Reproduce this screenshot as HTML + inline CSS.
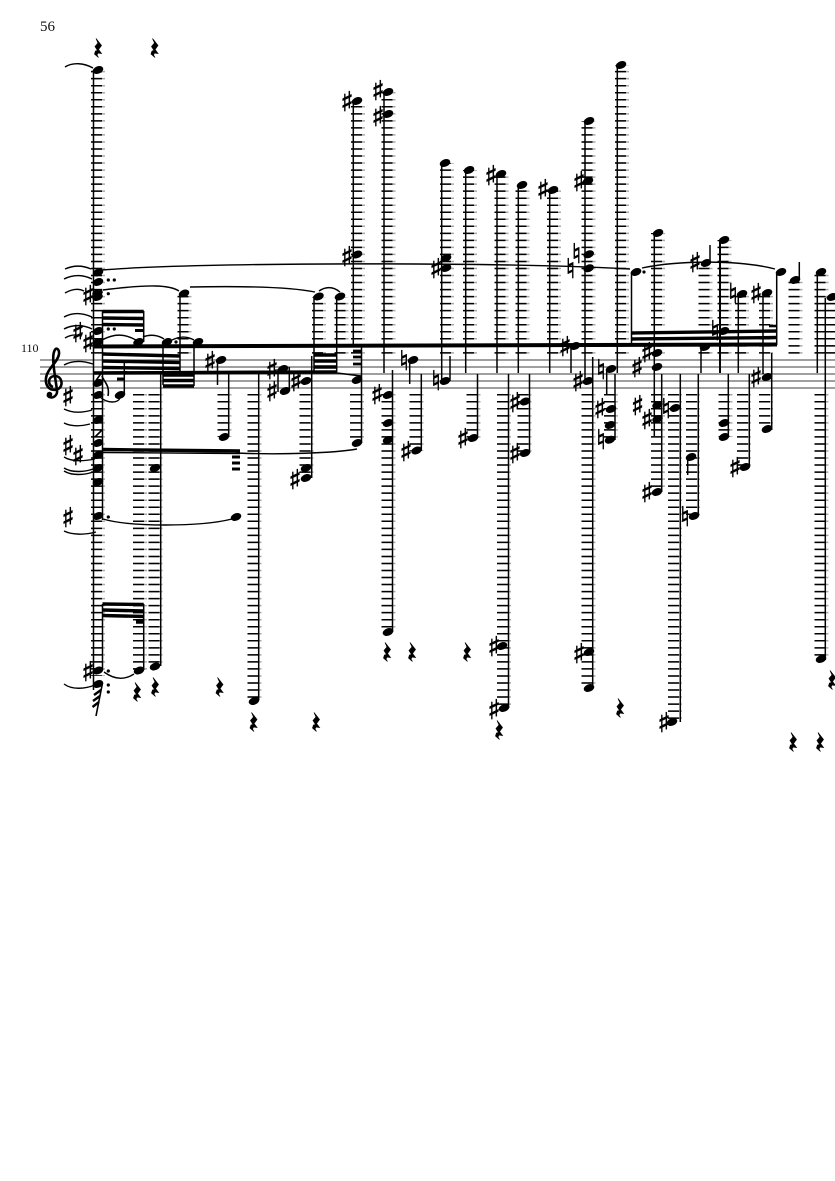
<!DOCTYPE html>
<html><head><meta charset="utf-8">
<style>
html,body{margin:0;padding:0;background:#fff}
svg{display:block}
.s{font-family:"DejaVu Sans",sans-serif;font-size:27px;text-anchor:middle;dominant-baseline:central;fill:#000;stroke:#000;stroke-width:.7px}
.t{font-family:"Liberation Serif",serif;fill:#111}
</style></head><body>
<svg width="835" height="1181" viewBox="0 0 835 1181" xmlns="http://www.w3.org/2000/svg">
<defs>
<ellipse id="n" cx="0" cy="0" rx="5.5" ry="3.7" transform="rotate(-22)"/>
<polygon id="r" stroke="#000" stroke-width=".7" points="-2,-9.5 3.5,-2.5 0.5,1.5 3.5,5.5 0,5 -1,7 0.5,9.5 -3.5,6 -2.5,3 -0.5,2.5 -3,-1.5 0,-5"/>
<path id="lu" d="M98 353.6V70M184.5 353.6V294M319 353.6V297M341.5 353.6V297M358 353.6V101M388.5 353.6V92M447 353.6V163M470 353.6V170M501.5 353.6V174M522.5 353.6V185M554 353.6V190M588.5 353.6V121M622 353.6V65M658 353.6V233M705.5 353.6V263M724.5 353.6V240M742 353.6V294M766 353.6V293M795.5 353.6V280M821.5 353.6V272M832 353.6V297"/>
<path id="ld" d="M98 394V676M140 394V671M155.5 394V667M224.5 394V437M254.5 394V701M306.5 394V478M357 394V443M388.5 394V632M416.5 394V451M473.5 394V438M504 394V708M524.5 394V453M588.5 394V688M611 394V440M658 394V492M675 394V722M693 394V516M725.5 394V437M744 394V467M766 394V429M821.5 394V660"/>
</defs>
<rect width="835" height="1181" fill="#fff"/>
<text class="t" x="40" y="31" font-size="15">56</text>
<text class="t" x="21" y="352" font-size="12">110</text>

<!-- staff -->
<path d="M40 360H835M40 367H835M40 374H835M40 381H835M40 388H835" stroke="#666" stroke-width="1.3" fill="none"/>

<!-- ledger lines: grey tips under black bars -->
<g fill="none" stroke-dasharray="1.5 5.53">
<g stroke="#aaa" stroke-width="14"><use href="#lu"/><use href="#ld"/></g>
<g stroke="#000" stroke-width="11"><use href="#lu" x="-1.5"/><use href="#ld" x="-1.5"/></g>
</g>

<!-- stems -->
<path fill="none" stroke="#000" stroke-width="1.5" d="M93.5 70V690M102.5 310V520M102.5 604V670M143.7 604V670M143.7 311V342M124.3 360V395M160.7 373V666M163 342V385M180 293V372M194 342V386M217.5 360V385M228.7 374V437M258.7 374V700M278 369V392M289.3 367V391M311.7 356V478M314 296V372M336.7 296V372M353.3 101V346M361.5 346V443M384 92V373M392.5 370V632M409.7 360V384M421.3 374V451M441.7 163V380M450 356V381M465.7 170V373M477.5 374V438M497 174V373M508.5 374V708M518.3 185V373M529.5 374V453M549.7 190V373M571 346V373M585 121V380M592.7 357V688M606.7 369V394M615 374V440M617.3 65V373M631.5 272V345M654.3 233V436M661.7 374V492M680.3 374V722M687.7 457V475M698.3 374V516M701 347V373M710 245V263M728.3 374V437M738.3 294V373M749.3 374V467M763 293V374M771.7 353V430M776.7 272V345M799.3 262V280M817.3 272V373M825.3 298V660"/>
<path fill="none" stroke="#000" stroke-width="2" d="M720 240V373"/>

<!-- beams -->
<g fill="none" stroke="#000">
<path stroke-width="4" d="M94 346.5L777 344.5"/>
<path stroke-width="3.6" d="M94 373L337 372"/>
<path stroke-width="3.4" d="M102.5 354L180 356M102.5 361L180 362.5M102.5 367.500L180 368.5"/>
<path stroke-width="3.4" d="M163 375L194 375M163 380.5L194 380.5M163 386L194 386"/>
<path stroke-width="3.4" d="M102.5 311.5L143.7 311.5M102.5 318L143.7 318.5M102.5 324.5L143.7 325"/>
<path stroke-width="3" d="M135 330.5H143.7M117 379H124.3"/>
<path stroke-width="3.4" d="M102.5 604L143.7 604.5M102.5 610L143.7 611M102.5 615.5L143.7 616.5M136 622H143.7"/>
<path stroke-width="3.4" d="M102.5 449.5L240 451"/>
<path stroke-width="1.4" d="M102.5 452.5L240 453.5"/>
<path stroke-width="3" d="M232 457H240M232 463H240M232 469H240"/>
<path stroke-width="3.4" d="M314 355H337M314 361H337M314 367H337"/>
<path stroke-width="2.8" d="M353 351H361.5M353 357H361.5M353 364H361.5"/>
<path stroke-width="1.4" d="M337 373L361 376"/>
<path stroke-width="3.4" d="M631.5 333L777 331M631.5 339L777 337.5"/>
<path stroke-width="2.6" d="M769 326H776.7"/>
</g>

<!-- ties -->
<path fill="none" stroke="#000" stroke-width="1.4" d="M65 67C73 62 84 63 93 68M65 269C74 265 82 265 91 269M64 279C74 274 84 275 92 279M65 293C72 289 78 288 84 291M64 317C73 312 83 313 92 317M64 329C73 324 84 325 92 329M65 338C70 335 76 334 82 336M64 365C73 360 84 361 93 364M64 409C72 413 82 413 92 410M64 423C72 427 82 426 90 424M64 457C72 462 85 461 95 459M64 468C72 473 85 472 93 469M64 471C72 476 85 475 93 472M64 531C72 535 85 535 96 532M64 684C72 690 85 689 95 685M102 270C200 262 500 262 630 269M103 290C150 284 170 285 179 291M190 287C240 286 290 287 315 292M319 291C328 285 335 288 340 292M642 268C680 260 740 260 775 269M103 519C130 527 200 527 232 519M236 453C280 455 335 453 357 449M104 672C115 680 125 680 134 674M100 397C108 404 118 403 120 398M102 340C115 333 125 334 136 340M143 337C150 334 158 335 164 339M172 340C180 336 187 336 194 340"/>

<!-- flags -->
<path fill="none" stroke="#000" stroke-width="1.6" d="M102 376C104 382 110 385 108 396M95 382L102 372M95 437L102 430M102.5 683L96 716"/>
<path fill="none" stroke="#000" stroke-width="2.4" d="M94 695L101 690M93 701L100 696M92.500 707L99 702"/>

<!-- noteheads -->
<g fill="#000">
<use href="#n" x="98" y="70"/><use href="#n" x="98" y="272.5"/><use href="#n" x="98" y="282"/><use href="#n" x="97.500" y="293"/><use href="#n" x="97.500" y="297"/><use href="#n" x="98" y="331"/><use href="#n" x="98" y="342"/><use href="#n" x="98" y="383"/><use href="#n" x="98" y="395"/><use href="#n" x="98" y="420"/><use href="#n" x="98" y="443"/><use href="#n" x="98" y="455"/><use href="#n" x="98" y="468"/><use href="#n" x="98" y="482"/><use href="#n" x="98" y="516"/><use href="#n" x="98" y="670.5"/><use href="#n" x="98" y="684"/>
<use href="#n" x="120" y="395"/><use href="#n" x="138.500" y="342"/><use href="#n" x="167" y="342"/><use href="#n" x="198" y="342"/><use href="#n" x="184" y="293.500"/><use href="#n" x="139" y="670.500"/><use href="#n" x="155" y="468"/><use href="#n" x="155" y="666.500"/><use href="#n" x="236" y="517"/><use href="#n" x="221" y="360"/><use href="#n" x="224" y="437"/><use href="#n" x="254" y="701"/>
<use href="#n" x="283" y="369"/><use href="#n" x="285" y="391"/><use href="#n" x="306" y="381"/><use href="#n" x="306" y="468"/><use href="#n" x="306" y="478"/><use href="#n" x="318.500" y="296.500"/><use href="#n" x="340" y="296.500"/><use href="#n" x="357" y="101"/><use href="#n" x="357" y="254.500"/><use href="#n" x="357" y="380"/><use href="#n" x="357" y="443"/>
<use href="#n" x="388" y="92"/><use href="#n" x="388" y="114"/><use href="#n" x="388" y="395"/><use href="#n" x="388" y="423"/><use href="#n" x="388" y="440"/><use href="#n" x="388" y="632"/><use href="#n" x="413" y="360"/><use href="#n" x="416.500" y="450.500"/><use href="#n" x="445" y="163"/><use href="#n" x="446" y="258"/><use href="#n" x="446" y="268"/><use href="#n" x="445" y="381"/>
<use href="#n" x="469" y="170"/><use href="#n" x="473" y="438"/><use href="#n" x="501" y="174"/><use href="#n" x="502" y="646"/><use href="#n" x="504" y="708"/><use href="#n" x="522" y="185"/><use href="#n" x="525" y="401.500"/><use href="#n" x="525" y="453"/><use href="#n" x="553" y="190"/>
<use href="#n" x="575" y="346"/><use href="#n" x="589" y="121"/><use href="#n" x="588" y="181"/><use href="#n" x="588.700" y="254.300"/><use href="#n" x="588.700" y="268.300"/><use href="#n" x="588" y="381"/><use href="#n" x="589" y="652"/><use href="#n" x="589" y="688"/><use href="#n" x="611" y="369"/><use href="#n" x="611" y="409"/><use href="#n" x="610" y="425"/><use href="#n" x="610" y="439.700"/><use href="#n" x="621" y="65"/>
<use href="#n" x="636" y="272"/><use href="#n" x="658" y="233"/><use href="#n" x="657" y="353"/><use href="#n" x="657" y="367"/><use href="#n" x="657.500" y="405"/><use href="#n" x="657.500" y="419"/><use href="#n" x="657" y="492"/><use href="#n" x="675" y="408"/><use href="#n" x="672" y="722"/><use href="#n" x="691" y="457"/><use href="#n" x="694" y="516"/><use href="#n" x="705" y="347"/><use href="#n" x="706" y="263"/><use href="#n" x="724" y="240"/><use href="#n" x="724" y="331"/><use href="#n" x="724" y="423"/><use href="#n" x="724" y="437"/>
<use href="#n" x="742" y="294"/><use href="#n" x="745" y="467"/><use href="#n" x="767" y="293"/><use href="#n" x="767" y="377"/><use href="#n" x="767" y="429"/><use href="#n" x="781" y="272"/><use href="#n" x="795" y="280"/><use href="#n" x="821" y="272"/><use href="#n" x="821" y="659"/><use href="#n" x="832" y="297"/>
</g>

<!-- dots -->
<g fill="#000">
<circle cx="108.300" cy="280" r="1.600"/><circle cx="114.300" cy="280" r="1.600"/><circle cx="108.300" cy="293.700" r="1.600"/><circle cx="108.300" cy="329" r="1.600"/><circle cx="114.300" cy="329" r="1.600"/><circle cx="108.300" cy="517" r="1.600"/><circle cx="108.300" cy="671" r="1.600"/><circle cx="108.300" cy="685" r="1.600"/><circle cx="108.300" cy="692" r="1.600"/><circle cx="176" cy="342" r="1.600"/><circle cx="644" cy="272" r="1.600"/>
</g>

<!-- accidentals -->
<g transform="translate(0 1.500)">
<text class="s" x="88" y="295">♯</text><text class="s" x="78" y="332">♯</text><text class="s" x="88" y="342">♯</text><text class="s" x="68" y="396">♯</text><text class="s" x="68" y="445">♯</text><text class="s" x="78" y="455">♯</text><text class="s" x="68" y="517">♯</text><text class="s" x="88" y="671">♯</text>
<text class="s" x="210" y="361">♯</text><text class="s" x="272" y="369">♯</text><text class="s" x="272" y="391">♯</text><text class="s" x="296" y="381">♯</text><text class="s" x="295" y="479">♯</text><text class="s" x="347" y="101">♯</text><text class="s" x="347" y="256">♯</text>
<text class="s" x="378" y="90">♯</text><text class="s" x="378" y="116">♯</text><text class="s" x="377" y="394">♯</text><text class="s" x="404" y="360">♮</text><text class="s" x="406" y="451">♯</text><text class="s" x="436" y="268">♯</text><text class="s" x="436" y="380">♮</text><text class="s" x="463" y="438">♯</text>
<text class="s" x="491" y="175">♯</text><text class="s" x="494" y="646">♯</text><text class="s" x="494" y="709">♯</text><text class="s" x="515" y="402">♯</text><text class="s" x="515" y="453">♯</text><text class="s" x="543" y="189">♯</text>
<text class="s" x="565" y="346">♯</text><text class="s" x="579" y="181">♯</text><text class="s" x="576.500" y="253">♮</text><text class="s" x="570.500" y="268">♮</text><text class="s" x="578" y="381">♯</text><text class="s" x="579" y="653">♯</text><text class="s" x="601" y="369">♮</text><text class="s" x="600" y="408">♯</text><text class="s" x="601" y="439">♮</text>
<text class="s" x="647" y="352">♯</text><text class="s" x="637" y="367">♯</text><text class="s" x="637.500" y="405">♯</text><text class="s" x="647" y="419">♯</text><text class="s" x="647" y="492">♯</text><text class="s" x="666" y="408">♮</text><text class="s" x="664" y="722">♯</text><text class="s" x="685" y="516">♮</text>
<text class="s" x="695" y="262">♯</text><text class="s" x="715" y="330">♮</text><text class="s" x="733" y="293">♮</text><text class="s" x="735" y="467">♯</text><text class="s" x="756" y="293">♯</text><text class="s" x="756" y="377">♯</text>
</g>

<!-- rests -->
<g fill="#000">
<use href="#r" x="98" y="48"/><use href="#r" x="154.500" y="48"/><use href="#r" x="137" y="692"/><use href="#r" x="155" y="687"/><use href="#r" x="219.500" y="687"/><use href="#r" x="253.500" y="722"/><use href="#r" x="316" y="722"/><use href="#r" x="387" y="652"/><use href="#r" x="412" y="652"/><use href="#r" x="467" y="652"/><use href="#r" x="499" y="730"/><use href="#r" x="620" y="708"/><use href="#r" x="793" y="742"/><use href="#r" x="820" y="742"/><use href="#r" x="832" y="680"/>
</g>

<!-- treble clef -->
<path fill="none" stroke="#000" stroke-width="2.6" d="M53 387C47 385 48 376 55 376C62 376 64 386 58 389C50 392 45 386 46 378C47 369 58 362 59 354C59.500 349 55.500 346 54 352C52 358 54 370 57 390C58 397 50 400 47.500 395"/>
<circle cx="49.500" cy="394.500" r="2.800" fill="#000"/>
</svg>
</body></html>
